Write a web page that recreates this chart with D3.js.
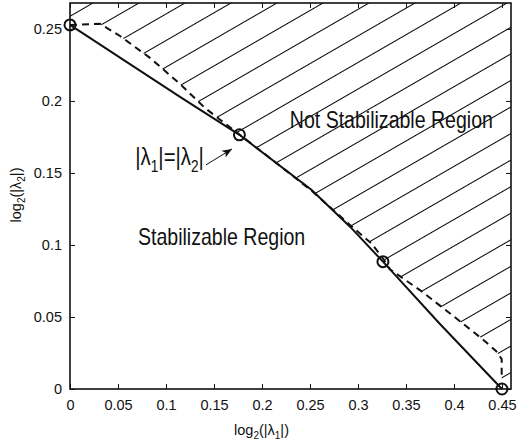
<!DOCTYPE html>
<html>
<head>
<meta charset="utf-8">
<script src="https://cdn.jsdelivr.net/npm/d3@7"></script>
<style>
body { margin: 0; background: #fff; }
svg text { font-family: "Liberation Sans", Arial, sans-serif; fill: #111; }
</style>
</head>
<body>
<div id="chart"></div>
<script>
// boundary curves, x = log2(|l1|), y = log2(|l2|)
var solidX = [0, 0.1146, 0.1765, 0.2518, 0.2917, 0.326, 0.3854, 0.45];
var solidY = [0.2528, 0.2028, 0.1765, 0.1382, 0.1127, 0.0884, 0.0451, 0];

var dashX = [0, 0.0313, 0.0521, 0.0833, 0.1146, 0.1406, 0.1771, 0.2083, 0.251, 0.2917,
             0.3146, 0.3271, 0.3333, 0.3653, 0.3993, 0.4299, 0.4438, 0.4497, 0.4497];
var dashY = [0.2528, 0.2535, 0.2451, 0.2299, 0.2118, 0.1951, 0.1764, 0.1604, 0.138, 0.1139,
             0.1007, 0.0896, 0.0831, 0.0683, 0.0507, 0.0345, 0.0264, 0.0208, 0.0076];

// circle markers
var markX = [0, 0.1765, 0.326, 0.45];
var markY = [0.2528, 0.1765, 0.0884, 0];

// ticks
var xTicks = [0, 0.05, 0.1, 0.15, 0.2, 0.25, 0.3, 0.35, 0.4, 0.45];
var xTickLabels = ["0", "0.05", "0.1", "0.15", "0.2", "0.25", "0.3", "0.35", "0.4", "0.45"];
var yTicks = [0, 0.05, 0.1, 0.15, 0.2, 0.25];
var yTickLabels = ["0", "0.05", "0.1", "0.15", "0.2", "0.25"];
var xMax = 0.4594, yMax = 0.268;

// annotation arrow (tail, head) in data units
var arrowX = [0.1417, 0.1688];
var arrowY = [0.1556, 0.1667];

var svgWidth = 520, svgHeight = 447;
var margin = {top: 3, right: 9, bottom: 58, left: 70};
var chartWidth = svgWidth - margin.left - margin.right;
var chartHeight = svgHeight - margin.top - margin.bottom;

var svg = d3.select("#chart").append("svg")
    .attr("width", svgWidth)
    .attr("height", svgHeight);

var defs = svg.append("defs");
var pat = defs.append("pattern")
    .attr("id", "hatch")
    .attr("patternUnits", "userSpaceOnUse")
    .attr("width", 60)
    .attr("height", 23)
    .attr("patternTransform", "rotate(-30)");
pat.append("line")
    .attr("x1", 0).attr("x2", 60)
    .attr("y1", 11.5).attr("y2", 11.5)
    .attr("stroke", "#000")
    .attr("stroke-width", 1);

defs.append("marker")
    .attr("id", "arrowhead")
    .attr("viewBox", "0 0 10 10")
    .attr("refX", 10).attr("refY", 5)
    .attr("markerWidth", 10).attr("markerHeight", 10)
    .attr("markerUnits", "userSpaceOnUse")
    .attr("orient", "auto")
    .append("path")
    .attr("d", "M0,1 L10,5 L0,9 L2.5,5 Z")
    .attr("fill", "#111");

var chartGroup = svg.append("g")
    .attr("transform", `translate(${margin.left}, ${margin.top})`);

var xScale = d3.scaleLinear().domain([0, xMax]).range([0, chartWidth]);
var yScale = d3.scaleLinear().domain([0, yMax]).range([chartHeight, 0]);

// hatched region above the dashed boundary
var hatchPts = dashX.map((x, i) => [x, dashY[i]]);
hatchPts.push([dashX[dashX.length - 1], 0], [xMax, 0], [xMax, yMax], [0, yMax]);
chartGroup.append("path")
    .attr("d", d3.line().x(d => xScale(d[0])).y(d => yScale(d[1]))(hatchPts) + "Z")
    .attr("fill", "url(#hatch)")
    .attr("stroke", "none");

// axes: ticks point inward on all four sides
var fmtX = (d, i) => xTickLabels[i];
var fmtY = (d, i) => yTickLabels[i];

chartGroup.append("g")
    .attr("transform", `translate(0, ${chartHeight})`)
    .call(d3.axisBottom(xScale).tickValues(xTicks).tickFormat(fmtX)
        .tickSizeInner(-5).tickSizeOuter(0).tickPadding(11));
chartGroup.append("g")
    .call(d3.axisTop(xScale).tickValues(xTicks).tickFormat("")
        .tickSizeInner(-5).tickSizeOuter(0));
chartGroup.append("g")
    .call(d3.axisLeft(yScale).tickValues(yTicks).tickFormat(fmtY)
        .tickSizeInner(-5).tickSizeOuter(0).tickPadding(8));
chartGroup.append("g")
    .attr("transform", `translate(${chartWidth}, 0)`)
    .call(d3.axisRight(yScale).tickValues(yTicks).tickFormat("")
        .tickSizeInner(-5).tickSizeOuter(0));

chartGroup.selectAll(".domain").remove();
chartGroup.selectAll(".tick line").attr("stroke", "#111").attr("stroke-width", 1);
chartGroup.selectAll(".tick text")
    .attr("font-size", "14.5px")
    .attr("font-family", "Liberation Sans, Arial, sans-serif")
    .attr("fill", "#111");

// frame
chartGroup.append("rect")
    .attr("x", 0).attr("y", 0)
    .attr("width", chartWidth).attr("height", chartHeight)
    .attr("fill", "none")
    .attr("stroke", "#111")
    .attr("stroke-width", 1.6);

var line = d3.line().x(d => xScale(d[0])).y(d => yScale(d[1]));

// dashed boundary
chartGroup.append("path")
    .attr("d", line(dashX.map((x, i) => [x, dashY[i]])))
    .attr("fill", "none")
    .attr("stroke", "#111")
    .attr("stroke-width", 2)
    .attr("stroke-dasharray", "7,5");

// solid boundary
chartGroup.append("path")
    .attr("d", line(solidX.map((x, i) => [x, solidY[i]])))
    .attr("fill", "none")
    .attr("stroke", "#111")
    .attr("stroke-width", 2);

// circle markers
chartGroup.selectAll("circle.mark")
    .data(markX.map((x, i) => [x, markY[i]]))
    .enter()
    .append("circle")
    .attr("class", "mark")
    .attr("cx", d => xScale(d[0]))
    .attr("cy", d => yScale(d[1]))
    .attr("r", 5.5)
    .attr("fill", "none")
    .attr("stroke", "#111")
    .attr("stroke-width", 2);

// region labels (tall narrow lettering as in the figure)
function regionLabel(x, y, txt) {
    chartGroup.append("text")
        .attr("transform", `translate(${xScale(x)}, ${yScale(y)}) scale(0.85, 1)`)
        .attr("font-size", "23px")
        .text(txt);
}
regionLabel(0.229, 0.181, "Not Stabilizable Region");
regionLabel(0.0708, 0.1, "Stabilizable Region");

// |l1|=|l2| label with arrow
var lam = chartGroup.append("text")
    .attr("transform", `translate(${xScale(0.068)}, ${yScale(0.1556)}) scale(0.85, 1)`)
    .attr("font-size", "24px");
lam.append("tspan").text("|\u03bb");
lam.append("tspan").attr("font-size", "16px").attr("dy", 7).text("1");
lam.append("tspan").attr("dy", -7).text("|=|\u03bb");
lam.append("tspan").attr("font-size", "16px").attr("dy", 7).text("2");
lam.append("tspan").attr("dy", -7).text("|");

chartGroup.append("line")
    .attr("x1", xScale(arrowX[0])).attr("y1", yScale(arrowY[0]))
    .attr("x2", xScale(arrowX[1])).attr("y2", yScale(arrowY[1]))
    .attr("stroke", "#111")
    .attr("stroke-width", 1)
    .attr("marker-end", "url(#arrowhead)");

// axis titles
var xl = svg.append("text")
    .attr("x", margin.left + chartWidth / 2 - 29)
    .attr("y", 435)
    .attr("text-anchor", "middle")
    .attr("font-size", "14.5px");
xl.append("tspan").text("log");
xl.append("tspan").attr("font-size", "10px").attr("dy", 4).text("2");
xl.append("tspan").attr("dy", -4).text("(|\u03bb");
xl.append("tspan").attr("font-size", "10px").attr("dy", 4).text("1");
xl.append("tspan").attr("dy", -4).text("|)");

var yl = svg.append("text")
    .attr("transform", "translate(21, 195) rotate(-90)")
    .attr("text-anchor", "middle")
    .attr("font-size", "14.5px");
yl.append("tspan").text("log");
yl.append("tspan").attr("font-size", "10px").attr("dy", 4).text("2");
yl.append("tspan").attr("dy", -4).text("(|\u03bb");
yl.append("tspan").attr("font-size", "10px").attr("dy", 4).text("2");
yl.append("tspan").attr("dy", -4).text("|)");
</script>
</body>
</html>
